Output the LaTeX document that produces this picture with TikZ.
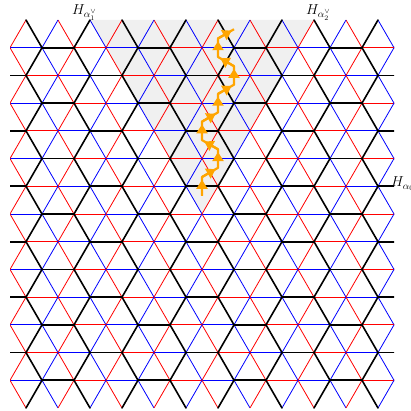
\documentclass[tikz,border=0pt]{standalone}
\usetikzlibrary{arrows.meta,calc}
\definecolor{lred}{RGB}{255,0,0}
\definecolor{lblue}{RGB}{0,0,255}
\definecolor{orng}{RGB}{255,165,0}
\begin{document}
\begin{tikzpicture}[x=1pt,y=-1pt,
  redge/.style={lred,line width=0.8pt},
  bledge/.style={lblue,line width=0.8pt},
  bedge/.style={black,line width=1.6pt,line cap=round},
  opath/.style={orng,line width=2.2pt,line join=round},
  lbl/.style={font=\Large,inner sep=0pt}]
\useasboundingbox (0,0) rectangle (411,411);
\fill[gray!12] (202,213.99) -- (90,20) -- (314,20) -- cycle;
\begin{scope}
\clip (10,20) rectangle (394,408);
\foreach \pass in {0,1}{
\foreach \r in {0,...,14}{
\foreach \u in {-3,...,27}{
  \pgfmathtruncatemacro\pq{mod(\u+\r+41,2)}
  \ifnum\pq=0
    \pgfmathtruncatemacro\m{mod(\u+30,3)}
    \pgfmathsetmacro\xa{10+16*\u}
    \pgfmathsetmacro\ya{20+27.7128*\r}
    \ifnum\pass=0
      % coloured edges
      \ifnum\r>0 \ifnum\r<14
        \ifcase\m
          \draw[bledge] (\xa,\ya) -- ++(32,0);
        \or
          \draw[redge] (\xa,\ya) -- ++(32,0);
        \fi
      \fi\fi
      \ifnum\r<14
        \ifcase\m
          \draw[redge] (\xa,\ya) -- ++(16,27.7128);
          \draw[bledge] (\xa,\ya) -- ++(-16,27.7128);
        \or
          \draw[redge] (\xa,\ya) -- ++(-16,27.7128);
        \or
          \draw[bledge] (\xa,\ya) -- ++(16,27.7128);
        \fi
      \fi
    \else
      % black honeycomb edges
      \ifnum\r>0 \ifnum\r<14
        \ifnum\m=2 \draw[bedge] (\xa,\ya) -- ++(32,0); \fi
      \fi\fi
      \ifnum\r<14
        \ifnum\m=1 \draw[bedge] (\xa,\ya) -- ++(16,27.7128); \fi
        \ifnum\m=2 \draw[bedge] (\xa,\ya) -- ++(-16,27.7128); \fi
      \fi
    \fi
  \fi
}}}
\end{scope}
% alcove walk
\coordinate (c1) at (202,195.51);
\coordinate (c2) at (202,177.04);
\coordinate (c3) at (218,167.80);
\coordinate (c4) at (218,149.32);
\coordinate (c5) at (202,140.09);
\coordinate (c6) at (202,121.61);
\coordinate (c7) at (218,112.38);
\coordinate (c8) at (218,93.90);
\coordinate (c9) at (234,84.67);
\coordinate (c10) at (234,66.19);
\coordinate (c11) at (218,56.95);
\coordinate (c12) at (218,38.48);
\coordinate (c13) at (234,29.24);
\draw[opath] (c1) -- (c2) -- (c3) -- (c4) -- (c5) -- (c6) -- (c7) -- (c8) -- (c9) -- (c10) -- (c11) -- (c12) -- (c13);
\foreach \i [evaluate=\i as \j using int(\i+1)] in {1,...,12}{
  \draw[opath,-{Triangle[width=11pt,length=9pt]}] (c\i) -- ($(c\i)!0.85!(c\j)$);
}
% labels
\node[lbl,anchor=base west] (la1) at (72,15) {$H_{\alpha_1^\vee}$};
\node[lbl,anchor=base west] (la2) at (306,15) {$H_{\alpha_2^\vee}$};
\node[lbl,anchor=base west] (la0) at (391,187) {$H_{\alpha_0}$};
\end{tikzpicture}
\end{document}
